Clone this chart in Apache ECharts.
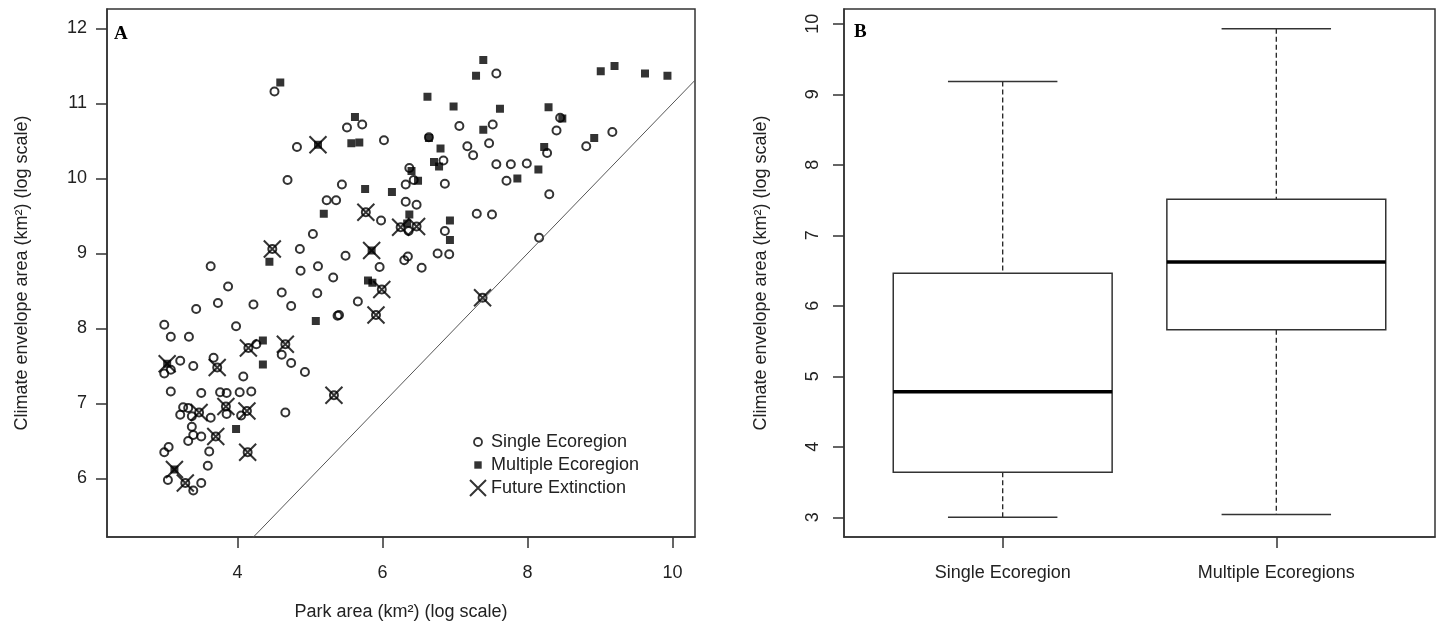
<!DOCTYPE html>
<html>
<head>
<meta charset="utf-8">
<title>Park area vs climate envelope</title>
<script src="https://cdn.jsdelivr.net/npm/echarts@6.0.0/dist/echarts.min.js"></script>
<style>
  html, body { margin: 0; padding: 0; background: #fff; }
  #chart { width: 1437px; height: 626px; }
</style>
</head>
<body>
<div id="chart"></div>
<script>
// panel A: [park area, climate envelope area], both log scale
const singleEcoregion = [
  [4.51, 11.16], [4.82, 10.42], [4.69, 9.98], [5.44, 9.92], [5.23, 9.71], [5.36, 9.71],
  [5.04, 9.26], [4.48, 9.06], [4.86, 9.06], [3.63, 8.83], [5.11, 8.83], [4.87, 8.77],
  [5.32, 8.68], [3.87, 8.56], [4.61, 8.48], [5.10, 8.47], [3.73, 8.34], [4.22, 8.32],
  [4.74, 8.30], [3.43, 8.26], [5.38, 8.17], [2.99, 8.05], [3.98, 8.03], [3.08, 7.89],
  [3.33, 7.89], [4.15, 7.74], [4.26, 7.79], [4.66, 7.79], [4.61, 7.65], [4.74, 7.54],
  [4.93, 7.42], [3.21, 7.57], [2.99, 7.40], [3.08, 7.45], [3.39, 7.50], [3.67, 7.61],
  [3.72, 7.48], [4.08, 7.36], [3.08, 7.16], [3.50, 7.14], [3.76, 7.15], [3.85, 7.14],
  [4.03, 7.15], [4.19, 7.16], [3.84, 6.96], [4.13, 6.90], [4.05, 6.84], [3.85, 6.86],
  [4.66, 6.88], [3.25, 6.95], [3.32, 6.94], [3.21, 6.85], [3.37, 6.83], [3.47, 6.88],
  [3.63, 6.81], [3.37, 6.69], [3.50, 6.56], [3.39, 6.58], [3.70, 6.56], [3.32, 6.50],
  [3.61, 6.36], [2.99, 6.35], [3.05, 6.42], [4.14, 6.35], [3.59, 6.17], [3.04, 5.98],
  [3.28, 5.94], [3.50, 5.94], [3.39, 5.84], [5.33, 7.11], [7.57, 11.40], [5.51, 10.68],
  [5.72, 10.72], [6.02, 10.51], [7.06, 10.70], [7.52, 10.72], [6.64, 10.55], [7.17, 10.43],
  [7.25, 10.31], [7.47, 10.47], [6.84, 10.24], [7.57, 10.19], [7.77, 10.19], [7.99, 10.20],
  [7.71, 9.97], [6.37, 10.14], [6.43, 9.98], [6.32, 9.92], [6.86, 9.93], [6.32, 9.69],
  [6.47, 9.65], [5.77, 9.55], [5.98, 9.44], [6.47, 9.36], [6.36, 9.30], [6.86, 9.30],
  [7.30, 9.53], [7.51, 9.52], [5.49, 8.97], [6.30, 8.91], [6.35, 8.96], [6.76, 9.00],
  [6.92, 8.99], [5.96, 8.82], [6.54, 8.81], [5.99, 8.52], [5.66, 8.36], [5.40, 8.18],
  [5.91, 8.18], [7.38, 8.41], [8.45, 10.81], [8.40, 10.64], [8.27, 10.34], [8.81, 10.43],
  [9.17, 10.62], [8.30, 9.79], [8.16, 9.21], [6.25, 9.35]
];

const multipleEcoregion = [
  [4.59, 11.28], [5.11, 10.45], [5.19, 9.53], [4.44, 8.89], [5.08, 8.10], [4.35, 7.84],
  [4.35, 7.52], [3.03, 7.53], [3.98, 6.66], [3.13, 6.12], [7.39, 11.58], [7.29, 11.37],
  [6.62, 11.09], [6.98, 10.96], [7.62, 10.93], [5.62, 10.82], [5.57, 10.47], [5.68, 10.48],
  [7.39, 10.65], [6.64, 10.54], [6.80, 10.40], [6.71, 10.22], [6.78, 10.16], [7.86, 10.00],
  [6.40, 10.10], [6.49, 9.97], [5.76, 9.86], [6.13, 9.82], [6.37, 9.52], [6.34, 9.40],
  [6.93, 9.44], [6.93, 9.18], [5.85, 9.04], [5.80, 8.64], [5.86, 8.61], [9.01, 11.43],
  [9.20, 11.50], [9.62, 11.40], [9.93, 11.37], [8.29, 10.95], [8.48, 10.80], [8.23, 10.42],
  [8.92, 10.54], [8.15, 10.12]
];

const futureExtinction = [
  [4.48, 9.06], [4.15, 7.74], [4.66, 7.79], [3.72, 7.48], [3.84, 6.96], [4.13, 6.90],
  [3.47, 6.88], [3.70, 6.56], [4.14, 6.35], [3.28, 5.94], [5.33, 7.11], [5.77, 9.55],
  [6.47, 9.36], [5.99, 8.52], [5.91, 8.18], [7.38, 8.41], [6.25, 9.35], [5.11, 10.45],
  [3.03, 7.53], [3.13, 6.12], [5.85, 9.04]
];

// 1:1 reference line (climate envelope = park area + 1)
const refLine = [[2.2, 3.2], [10.31, 11.31]];

const parkTicks = [4, 6, 8, 10];
const envelopeTicks = [6, 7, 8, 9, 10, 11, 12];

// panel B: boxplot stats
const boxCategories = ['Single Ecoregion', 'Multiple Ecoregions'];
const boxLow = [3.00, 3.04];
const boxQ1 = [3.64, 5.66];
const boxMedian = [4.78, 6.62];
const boxQ3 = [6.46, 7.51];
const boxHigh = [9.18, 9.93];
const boxTicks = [3, 4, 5, 6, 7, 8, 9, 10];

const FONT = 'Liberation Sans, Arial, sans-serif';
const INK = '#333';

const boxData = boxCategories.map((c, i) =>
  [i + 1, boxLow[i], boxQ1[i], boxMedian[i], boxQ3[i], boxHigh[i]]);

function renderBox(params, api) {
  const x = api.value(0);
  const lo = api.value(1), q1 = api.value(2), med = api.value(3), q3 = api.value(4), hi = api.value(5);
  const c = (a, b) => api.coord([a, b]);
  const boxL = c(x - 0.4, q3), boxR = c(x + 0.4, q1);
  const mid = c(x, med)[0];
  const dash = { stroke: '#222', lineWidth: 1.3, lineDash: [5, 3] };
  const solid = { stroke: INK, lineWidth: 1.5 };
  return {
    type: 'group',
    children: [
      { type: 'line', shape: { x1: mid, y1: c(x, hi)[1], x2: mid, y2: c(x, q3)[1] }, style: dash },
      { type: 'line', shape: { x1: mid, y1: c(x, q1)[1], x2: mid, y2: c(x, lo)[1] }, style: dash },
      { type: 'line', shape: { x1: c(x - 0.2, hi)[0], y1: c(x, hi)[1], x2: c(x + 0.2, hi)[0], y2: c(x, hi)[1] }, style: solid },
      { type: 'line', shape: { x1: c(x - 0.2, lo)[0], y1: c(x, lo)[1], x2: c(x + 0.2, lo)[0], y2: c(x, lo)[1] }, style: solid },
      { type: 'rect', shape: { x: boxL[0], y: boxL[1], width: boxR[0] - boxL[0], height: boxR[1] - boxL[1] },
        style: { fill: '#fff', stroke: INK, lineWidth: 1.5 } },
      { type: 'line', shape: { x1: boxL[0], y1: c(x, med)[1], x2: boxR[0], y2: c(x, med)[1] },
        style: { stroke: '#000', lineWidth: 3.5 } }
    ]
  };
}

const axisLine = { show: true, lineStyle: { color: INK, width: 1.5 } };
const axisTick = { show: true, length: 11, lineStyle: { color: INK, width: 1.5 } };
const labelStyle = { color: '#222', fontSize: 18, fontFamily: FONT };
const nameStyle = { color: '#222', fontSize: 18, fontFamily: FONT };

const chart = echarts.init(document.getElementById('chart'));
chart.setOption({
  animation: false,
  backgroundColor: '#fff',
  title: [
    { text: 'A', left: 109, top: 20, textStyle: { fontFamily: 'Liberation Serif, Times New Roman, serif', fontWeight: 'bold', fontSize: 19, color: '#000' } },
    { text: 'B', left: 849, top: 18, textStyle: { fontFamily: 'Liberation Serif, Times New Roman, serif', fontWeight: 'bold', fontSize: 19, color: '#000' } }
  ],
  legend: {
    orient: 'vertical',
    left: 469,
    top: 433,
    padding: 0,
    itemWidth: 16,
    itemHeight: 16,
    itemGap: 5,
    selectedMode: false,
    textStyle: { color: '#222', fontSize: 18, fontFamily: FONT },
    data: [
      { name: 'Single Ecoregion', icon: 'path://M0,0M16,16M12,8A4,4,0,1,1,4,8A4,4,0,1,1,12,8Z',
        itemStyle: { color: 'rgba(0,0,0,0)', borderColor: '#000', borderWidth: 1.8 } },
      { name: 'Multiple Ecoregion', icon: 'path://M0,0M16,16M4.3,4.3L11.7,4.3L11.7,11.7L4.3,11.7Z',
        itemStyle: { color: '#000', borderWidth: 0 } },
      { name: 'Future Extinction', icon: 'path://M0,0L16,16M16,0L0,16',
        itemStyle: { color: 'rgba(0,0,0,0)', borderColor: '#000', borderWidth: 2 } }
    ]
  },
  grid: [
    { left: 107, top: 9, width: 588, height: 528, show: true, borderColor: INK, borderWidth: 1.5, backgroundColor: 'transparent', outerBoundsMode: 'none' },
    { left: 844, top: 9, width: 591, height: 528, show: true, borderColor: INK, borderWidth: 1.5, backgroundColor: 'transparent', outerBoundsMode: 'none' }
  ],
  xAxis: [
    {
      gridIndex: 0, type: 'value', min: 2.2, max: 10.31,
      name: 'Park area (km²) (log scale)', nameLocation: 'middle', nameGap: 66, nameTextStyle: nameStyle,
      axisLine: axisLine, axisTick: Object.assign({ customValues: parkTicks }, axisTick),
      axisLabel: Object.assign({ customValues: parkTicks, margin: 27 }, labelStyle),
      splitLine: { show: false }
    },
    {
      gridIndex: 1, type: 'value', min: 0.42, max: 2.58,
      axisLine: axisLine, axisTick: Object.assign({ customValues: [1, 2] }, axisTick),
      axisLabel: Object.assign({ customValues: [1, 2], margin: 27, formatter: v => boxCategories[Math.round(v) - 1] }, labelStyle),
      splitLine: { show: false }
    }
  ],
  yAxis: [
    {
      gridIndex: 0, type: 'value', min: 5.22, max: 12.26,
      name: 'Climate envelope area (km²) (log scale)', nameLocation: 'middle', nameGap: 76, nameTextStyle: nameStyle,
      axisLine: axisLine, axisTick: Object.assign({ customValues: envelopeTicks }, axisTick),
      axisLabel: Object.assign({ customValues: envelopeTicks, margin: 20 }, labelStyle),
      splitLine: { show: false }
    },
    {
      gridIndex: 1, type: 'value', min: 2.72, max: 10.21,
      name: 'Climate envelope area (km²) (log scale)', nameLocation: 'middle', nameGap: 74, nameTextStyle: nameStyle,
      axisLine: axisLine, axisTick: Object.assign({ customValues: boxTicks }, axisTick),
      axisLabel: Object.assign({ customValues: boxTicks, margin: 22, rotate: 90 }, labelStyle),
      splitLine: { show: false }
    }
  ],
  series: [
    {
      type: 'line', xAxisIndex: 0, yAxisIndex: 0, data: refLine, symbol: 'none', clip: true,
      lineStyle: { color: '#555', width: 1 }, silent: true
    },
    {
      name: 'Single Ecoregion', type: 'scatter', xAxisIndex: 0, yAxisIndex: 0, data: singleEcoregion,
      symbol: 'circle', symbolSize: 8,
      itemStyle: { color: 'rgba(0,0,0,0)', borderColor: '#000', borderWidth: 2 }
    },
    {
      name: 'Multiple Ecoregion', type: 'scatter', xAxisIndex: 0, yAxisIndex: 0, data: multipleEcoregion,
      symbol: 'rect', symbolSize: 8,
      itemStyle: { color: '#000' }
    },
    {
      name: 'Future Extinction', type: 'scatter', xAxisIndex: 0, yAxisIndex: 0, data: futureExtinction,
      symbol: 'path://M0,0L10,10M10,0L0,10', symbolSize: 17,
      itemStyle: { color: 'rgba(0,0,0,0)', borderColor: '#000', borderWidth: 2 }
    },
    {
      type: 'custom', xAxisIndex: 1, yAxisIndex: 1, data: boxData, renderItem: renderBox,
      encode: { x: 0, y: [1, 2, 3, 4, 5] }
    }
  ]
});
</script>
</body>
</html>
